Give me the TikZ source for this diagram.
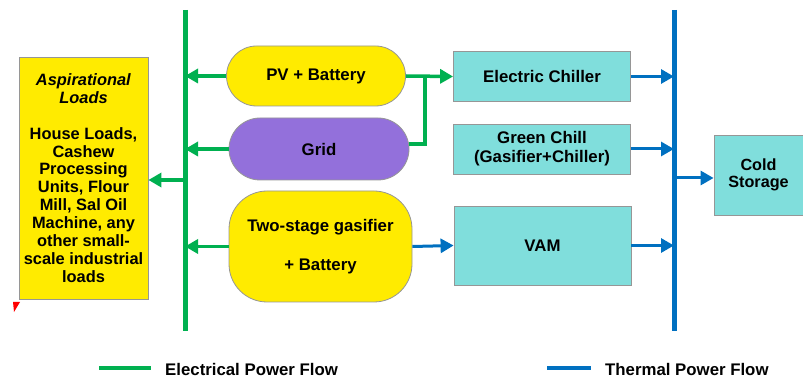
\documentclass[tikz,border=0pt]{standalone}
\usepackage{fontspec}
\setmainfont{Liberation Sans}
\usetikzlibrary{arrows.meta}
\definecolor{ylw}{RGB}{255,235,0}
\definecolor{prp}{RGB}{147,112,219}
\definecolor{cyn}{RGB}{128,222,220}
\definecolor{egreen}{RGB}{0,176,80}
\definecolor{tblue}{RGB}{0,112,192}
\definecolor{bord}{RGB}{150,150,150}
\tikzset{
  box/.style={draw=bord, line width=0.8pt, inner sep=0pt, align=center, font=\bfseries\fontsize{16.8}{18}\selectfont},
  cbox/.style={box, fill=cyn},
  gline/.style={draw=egreen, line width=3.5pt},
  garrow/.style={gline, -{Triangle[length=13pt,width=14pt]}},
  bline/.style={draw=tblue, line width=3pt},
  barrow/.style={bline, -{Triangle[length=13pt,width=14pt]}},
  gbus/.style={draw=egreen, line width=5pt},
  bbus/.style={draw=tblue, line width=5pt},
  legtext/.style={anchor=west, inner sep=0pt, font=\bfseries\fontsize{16.8}{18}\selectfont}
}
\begin{document}
\begin{tikzpicture}[x=1pt,y=-1pt]
\useasboundingbox (0,0) rectangle (803,379);
% buses
\coordinate (gtop) at (185,10);
\coordinate (gbot) at (185,331);
\coordinate (btop) at (674,10);
\coordinate (bbot) at (674,331);
\draw[gbus] (gtop) -- (gbot);
\draw[bbus] (btop) -- (bbot);
% nodes
\node[box, fill=ylw, minimum width=129pt, minimum height=242pt, font=\bfseries\fontsize{16.4}{17.9}\selectfont] (loads) at (83.5,178)
 {\textit{Aspirational}\\\textit{Loads}\\[17.9pt]House Loads,\\Cashew\\Processing\\Units, Flour\\Mill, Sal Oil\\Machine, any\\other small-\\scale industrial\\loads};
\node[box, fill=ylw, rounded corners=30pt, minimum width=179pt, minimum height=60pt] (pv) at (316,76) {PV + Battery};
\node[box, fill=prp, rounded corners=31pt, minimum width=180pt, minimum height=62pt] (grid) at (319,149) {Grid};
\node[box, fill=ylw, rounded corners=38pt, minimum width=183pt, minimum height=111pt] (gas) at (320.5,246.5) {Two-stage gasifier\\[21pt]+ Battery};
\node[cbox, minimum width=177pt, minimum height=50pt] (ech) at (542,76.5) {Electric Chiller};
\node[cbox, minimum width=177pt, minimum height=50pt, font=\bfseries\fontsize{16.8}{19}\selectfont] (gch) at (542,149) {Green Chill\\(Gasifier+Chiller)};
\node[cbox, minimum width=177pt, minimum height=79pt] (vam) at (542.5,245.5) {VAM};
\node[cbox, minimum width=89pt, minimum height=80pt, font=\bfseries\fontsize{16.2}{17.5}\selectfont] (cold) at (758.5,175) {Cold\\Storage};
% electrical connectors
\draw[garrow] (gtop |- 0,180) -- (loads.east |- 0,180);
\draw[garrow] (pv.west) -- (pv.west -| gtop);
\draw[garrow] (grid.west) -- (grid.west -| gtop);
\draw[garrow] (gas.west) -- (gas.west -| gtop);
\coordinate (jn) at (425,76);
\draw[garrow] (pv.east) -- (ech.west);
\draw[gline] ([yshift=5pt]grid.east) -| (jn);
% thermal connectors
\draw[barrow] (gas.east) -- (vam.west);
\draw[barrow] (ech.east) -- (ech.east -| btop);
\draw[barrow] (gch.east) -- (gch.east -| btop);
\draw[barrow] (vam.east) -- (vam.east -| btop);
\draw[barrow] (btop |- 0,178) -- (cold.west |- 0,178);
% legend
\coordinate (lg1) at (99,368);
\coordinate (lg2) at (151,368);
\coordinate (lb1) at (547,368);
\coordinate (lb2) at (591,368);
\draw[gline] (lg1) -- (lg2);
\node[legtext] (legE) at (165,369) {Electrical Power Flow};
\draw[bline, line width=3.5pt] (lb1) -- (lb2);
\node[legtext] (legT) at (605,369) {Thermal Power Flow};
% small red mark
\fill[red] (13,302) -- (20,302) -- (14,312) -- cycle;
\end{tikzpicture}
\end{document}
